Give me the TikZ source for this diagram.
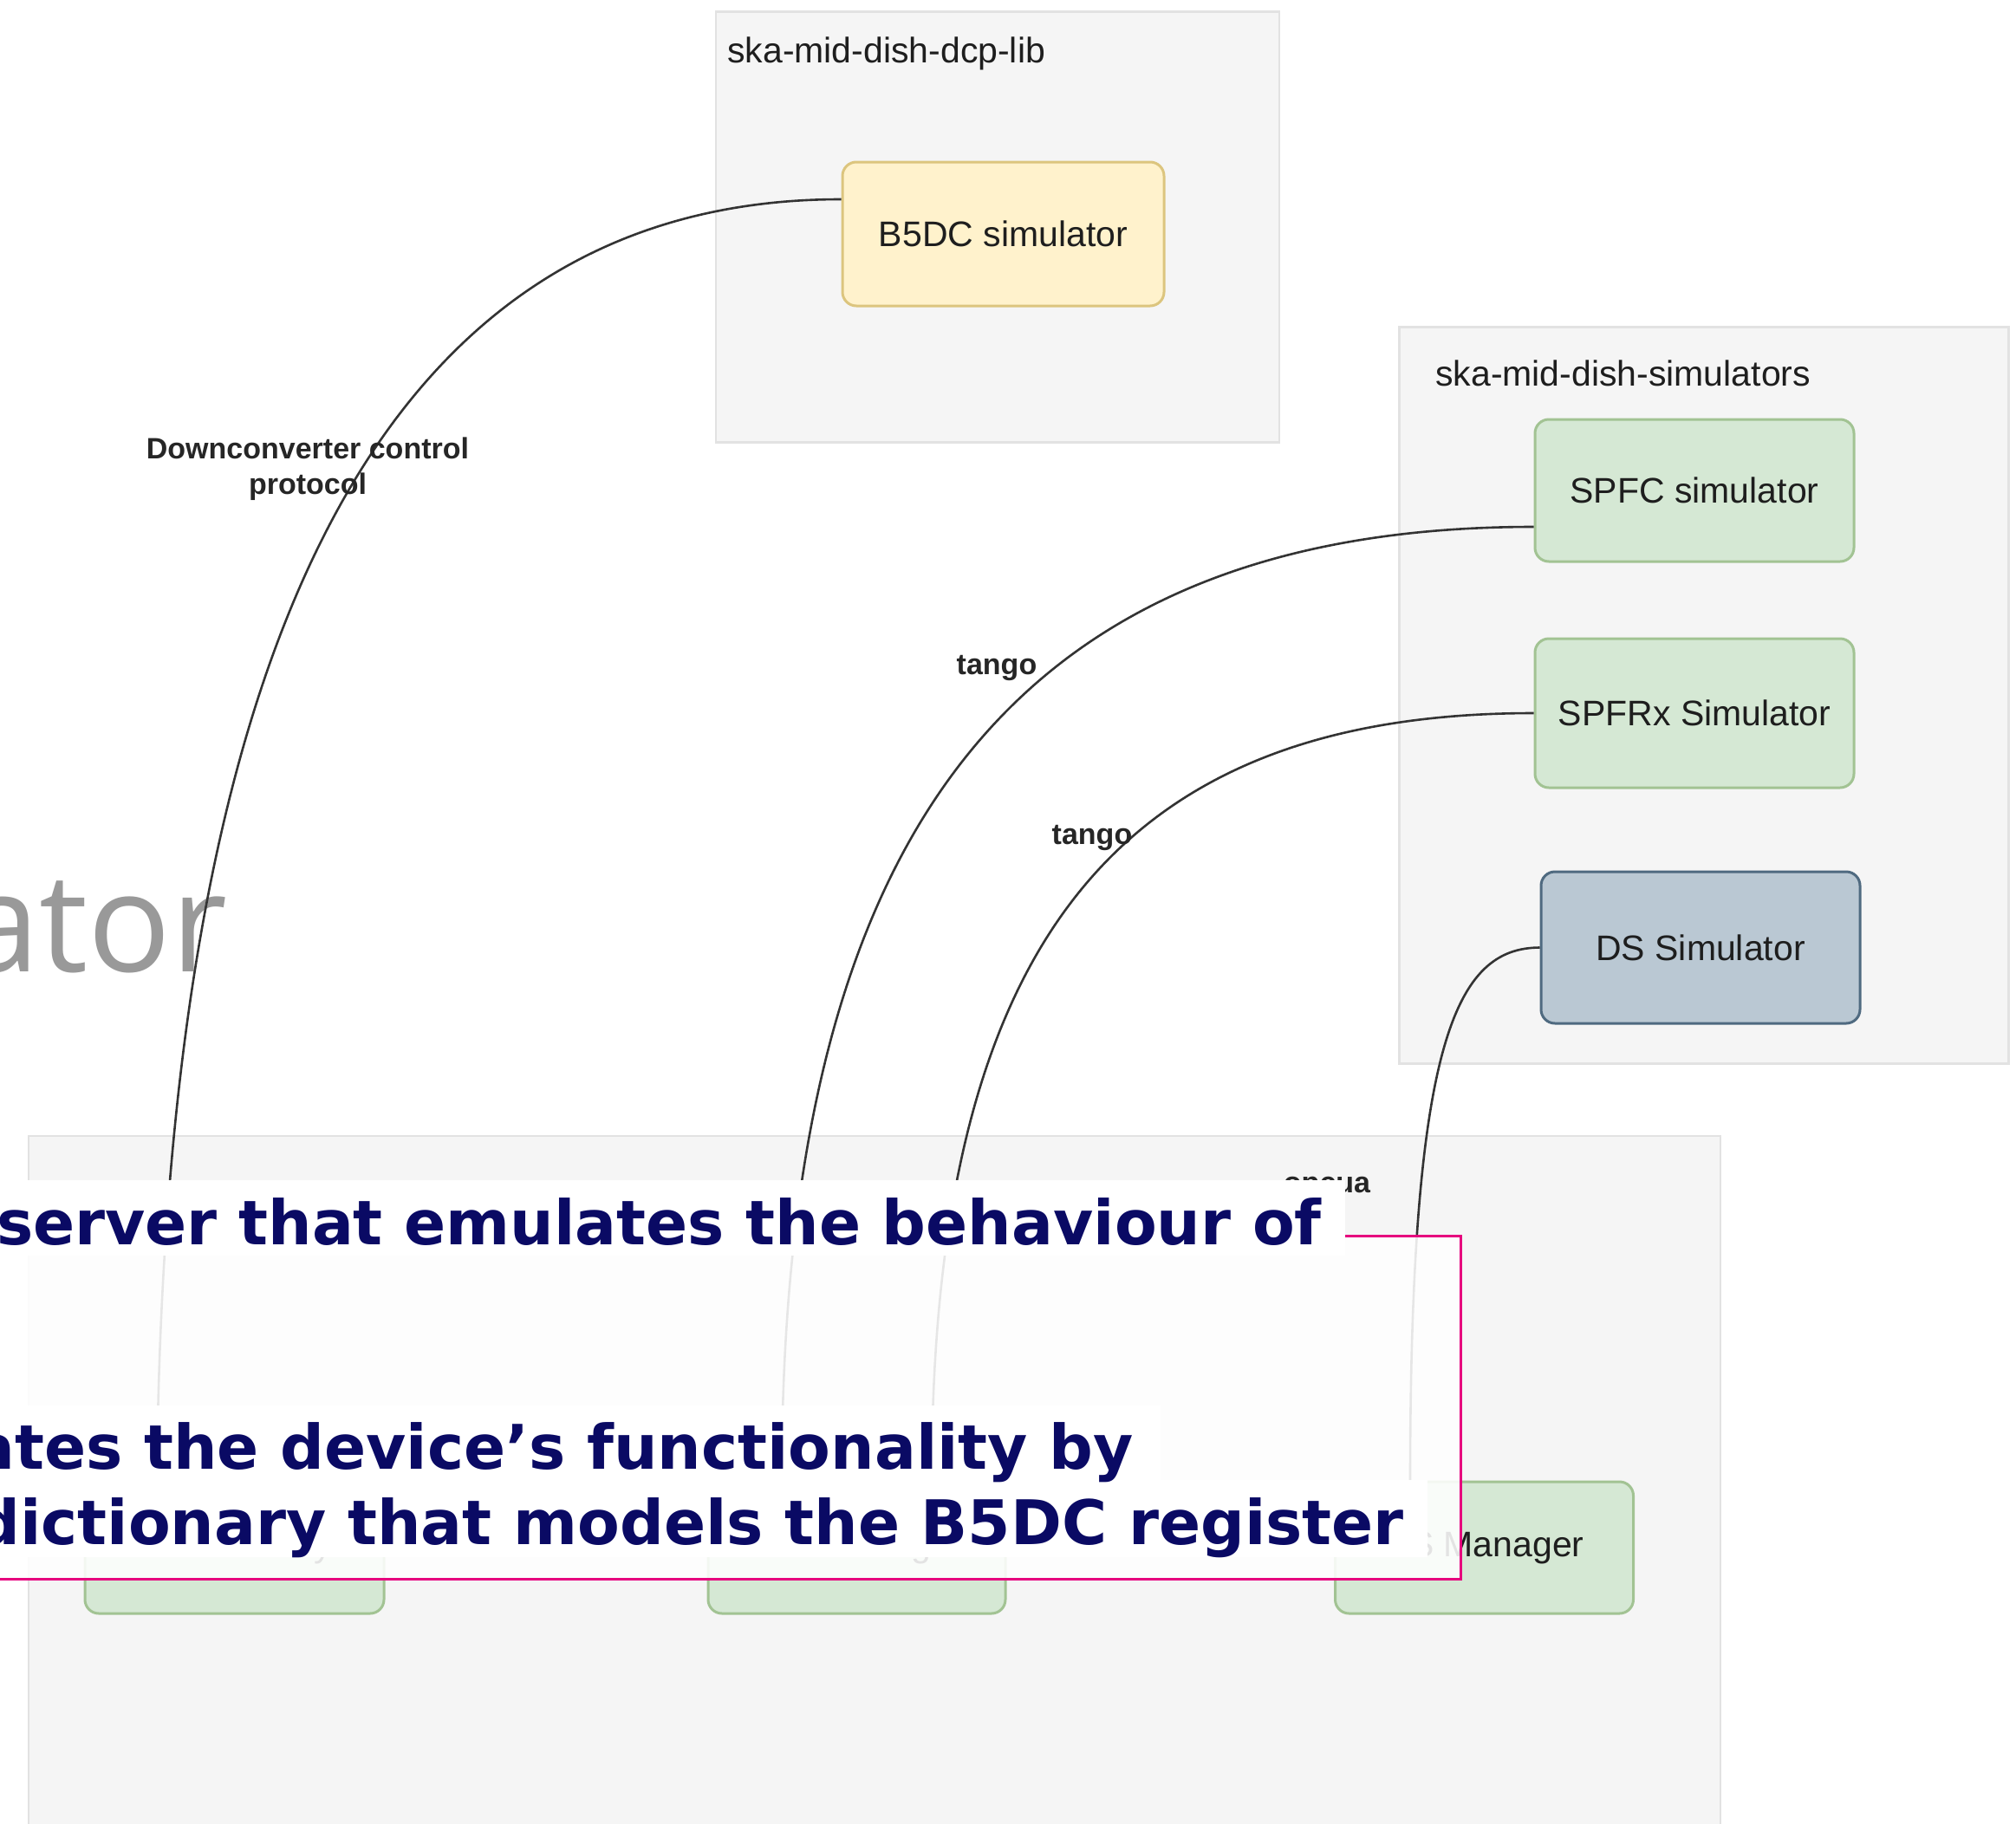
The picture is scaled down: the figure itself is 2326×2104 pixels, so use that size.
\documentclass[tikz,border=0pt]{standalone}
\usepackage{fontspec}
\setmainfont{Liberation Sans}
\newfontfamily\slidefont{DejaVu Sans}
\newfontfamily\titlefont{Open Sans}
\definecolor{boxfill}{HTML}{F5F5F5}
\definecolor{boxline}{HTML}{E2E2E2}
\definecolor{greenfill}{HTML}{D5E8D4}
\definecolor{greenline}{HTML}{A2C393}
\definecolor{yellowfill}{HTML}{FFF2CC}
\definecolor{yellowline}{HTML}{DCC57E}
\definecolor{bluefill}{HTML}{BAC8D3}
\definecolor{blueline}{HTML}{4F6A80}
\definecolor{nodetext}{HTML}{1E1E1E}
\definecolor{connc}{HTML}{333333}
\definecolor{pinkc}{HTML}{E6007E}
\definecolor{navy}{HTML}{0A0A64}
\definecolor{bigtext}{HTML}{999999}
\begin{document}
\begin{tikzpicture}[x=1pt,y=-1pt,
  container/.style={draw=boxline, fill=boxfill, line width=2.5pt, inner sep=0pt},
  boxlabel/.style={anchor=west, inner sep=0pt, text=nodetext, font=\fontsize{41}{49}\selectfont},
  comp/.style={rounded corners=16pt, line width=3pt, inner sep=0pt, text=nodetext, font=\fontsize{41}{49}\selectfont},
  greencomp/.style={comp, draw=greenline, fill=greenfill},
  conn/.style={draw=connc, line width=2.6pt},
  clabel/.style={font=\bfseries\fontsize{34}{41}\selectfont, text=black!85, align=center, inner sep=0pt},
  slidetext/.style={anchor=base east, inner sep=0pt, text=navy, font=\slidefont\bfseries\fontsize{71}{85}\selectfont},
  highlight/.style={fill=white}
]
\useasboundingbox (0,0) rectangle (2326,2104);
\fill[white] (0,0) rectangle (2326,2104);

% containers
\node[container, minimum width=650pt, minimum height=497pt] (dcplib) at (1151,262) {};
\node[boxlabel] (dcplibl) at (839,62) {ska-mid-dish-dcp-lib};
\node[container, minimum width=703pt, minimum height=850pt] (simbox) at (1966,802.5) {};
\node[boxlabel] (simboxl) at (1656,431) {ska-mid-dish-simulators};
\node[container, minimum width=1952pt, minimum height=799pt] (mgrbox) at (1009,1710.5) {};

% big cut title text
\node[anchor=base east, inner sep=0pt, text=bigtext, font=\titlefont\fontsize{159}{190}\selectfont] (ator) at (263,1121) {ator};

% components
\node[comp, draw=yellowline, fill=yellowfill, minimum width=371pt, minimum height=166pt] (b5dc) at (1157.5,270) {B5DC simulator};
\node[greencomp, minimum width=368pt, minimum height=164pt] (spfc) at (1955,566) {SPFC simulator};
\node[greencomp, minimum width=368pt, minimum height=172pt] (spfrx) at (1955,823) {SPFRx Simulator};
\node[comp, draw=blueline, fill=bluefill, minimum width=368pt, minimum height=175pt] (dssim) at (1962,1093.5) {DS Simulator};
\node[greencomp, minimum width=345pt, minimum height=152pt] (proxy) at (270.5,1786) {B5DC Proxy};
\node[greencomp, minimum width=343pt, minimum height=152pt] (dishmgr) at (988.5,1786) {DishManager};
\node[greencomp, minimum width=344pt, minimum height=152pt] (dsmgr) at (1712.5,1786) {DS Manager};

% connectors
\draw[conn] ([yshift=40pt]b5dc.west) .. controls (450,230) and (190,720) .. ([xshift=-89.5pt]proxy.north);
\draw[conn] ([yshift=-42pt]spfc.west) .. controls (1140,608) and (902,1000) .. ([xshift=-86.5pt]dishmgr.north);
\draw[conn] (spfrx.west) .. controls (1280,823) and (1075,1100) .. ([xshift=86.5pt]dishmgr.north);
\draw[conn] (dssim.west) .. controls (1680,1094) and (1627,1200) .. ([xshift=-85.5pt]dsmgr.north);

% connector labels
\node[clabel] (dcpl) at (355,541) {Downconverter control\\protocol};
\node[clabel] (tango1) at (1150,771) {tango};
\node[clabel] (tango2) at (1260,967) {tango};
\node[clabel] (opcua) at (1531,1371) {opcua};

% slide overlay callout
\node[draw=pinkc, line width=3pt, fill=white, fill opacity=0.88, draw opacity=1, minimum width=1715pt, minimum height=396pt, inner sep=0pt] (callout) at (827.5,1624) {};

% text highlights
\fill[highlight] (-5,1362) rectangle (1552,1449);
\fill[highlight] (-5,1622) rectangle (1339,1710);
\fill[highlight] (-5,1708) rectangle (1647,1797);

\node[slidetext] (line1) at (1525,1436) {server that emulates the behaviour of};
\node[slidetext] (line2) at (1308,1695) {ates the device’s functionality by};
\node[slidetext] (line3) at (1620,1782) {dictionary that models the B5DC register};
\end{tikzpicture}
\end{document}
